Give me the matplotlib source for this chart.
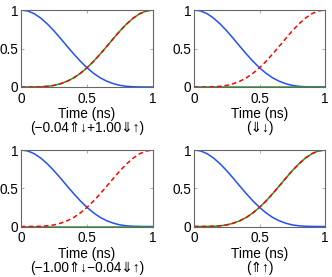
import matplotlib
matplotlib.use("Agg")
import matplotlib.pyplot as plt

time_ns = [0.0, 0.05, 0.1, 0.15, 0.2, 0.25, 0.3, 0.35, 0.4, 0.45, 0.5,
           0.55, 0.6, 0.65, 0.7, 0.75, 0.8, 0.85, 0.9, 0.95, 1.0]
blue_vals = [1.0, 0.988, 0.952, 0.894, 0.818, 0.729, 0.630, 0.528, 0.428, 0.334, 0.25,
             0.178, 0.119, 0.075, 0.043, 0.021, 0.009, 0.003, 0.001, 0.0, 0.0]
red_vals = [0.0, 0.0, 0.001, 0.003, 0.009, 0.021, 0.043, 0.075, 0.119, 0.178, 0.25,
            0.334, 0.428, 0.528, 0.630, 0.729, 0.818, 0.894, 0.952, 0.988, 1.0]
green_rising = red_vals
green_flat = [0.0] * len(time_ns)

panel_labels = ["(\u22120.04\u21d1\u2193+1.00\u21d3\u2191)", "(\u21d3\u2193)",
                "(\u22121.00\u21d1\u2193\u22120.04\u21d3\u2191)", "(\u21d1\u2191)"]
panel_green = [green_rising, green_flat, green_flat, green_rising]

xticks = [0, 0.5, 1]
yticks = [0, 0.5, 1]
xtick_labels = ["0", "0.5", "1"]
ytick_labels = ["0", "0.5", "1"]

plt.rcParams['font.family'] = ['Liberation Sans', 'DejaVu Sans']

fig = plt.figure(figsize=(3.32, 2.77), dpi=100)
W, H = 332, 277
boxes = [(21, 10, 153, 87), (194, 10, 325, 87), (21, 150, 153, 226.5), (194, 150, 325, 226.5)]

for (x0, y0, x1, y1), lab, gv in zip(boxes, panel_labels, panel_green):
    ax = fig.add_axes([x0 / W, 1 - y1 / H, (x1 - x0) / W, (y1 - y0) / H])
    ax.plot(time_ns, blue_vals, color='#2050ff', lw=1.1)
    ax.plot(time_ns, gv, color='#20a020', lw=1.1)
    ax.plot(time_ns, red_vals, color='#ff0000', lw=1.1, ls=(0, (3, 2)))
    ax.set_xlim(0, 1)
    ax.set_ylim(0, 1)
    ax.set_xticks(xticks)
    ax.set_xticklabels(xtick_labels)
    ax.set_yticks(yticks)
    ax.set_yticklabels(ytick_labels)
    ax.tick_params(direction='in', length=2, width=0.5, top=True, right=True,
                   labelsize=9.8, pad=2, colors='#888888', labelcolor='black')
    ax.tick_params(axis='x', pad=3.5)
    for s in ax.spines.values():
        s.set_color('#666666')
        s.set_linewidth(0.8)
    ax.set_xlabel("Time (ns)\n" + lab, fontsize=9.8, labelpad=1, linespacing=1.0)

fig.savefig("out.png", dpi=100)
